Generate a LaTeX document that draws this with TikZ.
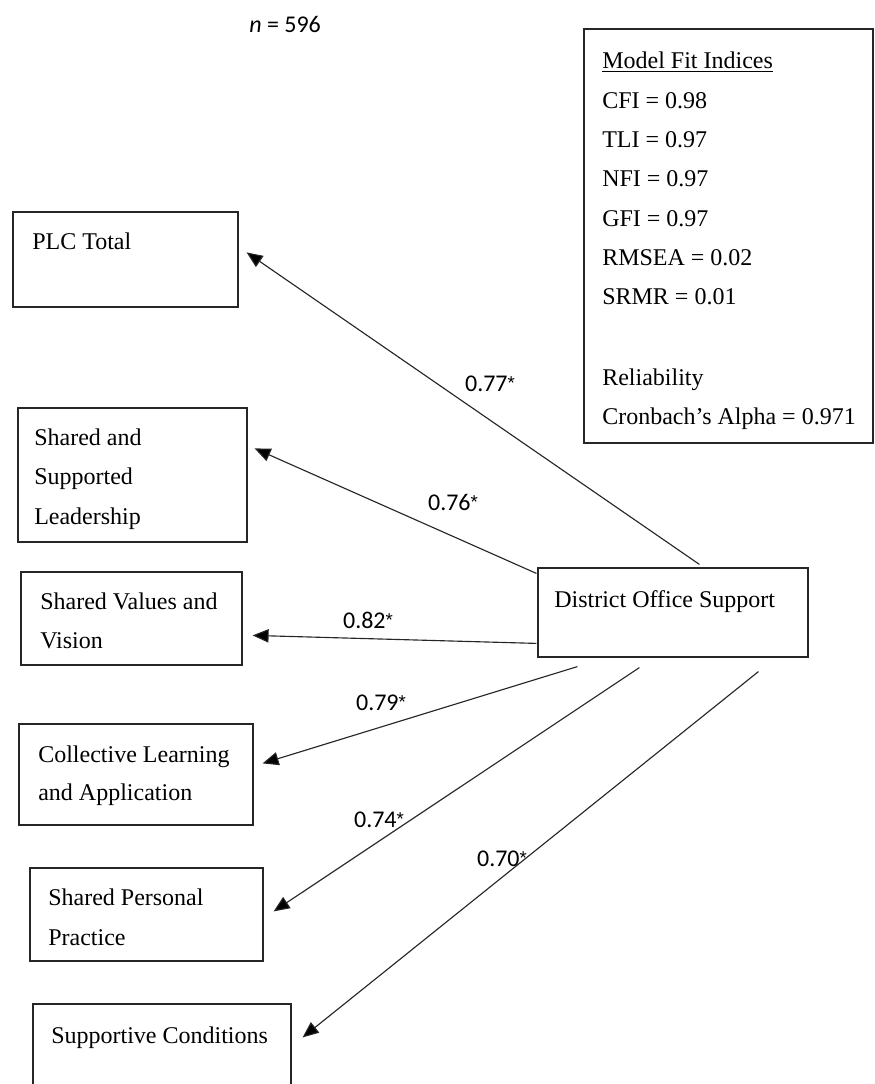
\documentclass[tikz,border=0pt]{standalone}
\usepackage{fontspec}
\setmainfont{Liberation Serif}
\newfontfamily\lblfont{Carlito}
\newfontfamily\starfont{Liberation Sans}
\usetikzlibrary{arrows.meta,calc,fit}
\newcommand{\sigstar}{\raisebox{0.05em}{\starfont\fontsize{14}{14}\selectfont *}}
\begin{document}
\begin{tikzpicture}[x=0.75pt,y=-0.75pt,
  boxnode/.style={draw=black!85, line width=0.9pt, inner sep=0pt, rectangle},
  txt/.style={anchor=base west, inner sep=0pt, font=\fontsize{18}{22}\selectfont},
  coef/.style={anchor=base, inner sep=0pt, font=\lblfont\fontsize{18}{22}\selectfont},
  linkarrow/.style={draw=black!85, line width=0.85pt, -{Triangle[length=12pt,width=10pt,fill=black]}}
]
\useasboundingbox (0,0) rectangle (874,1084);

% sample size
\node[coef, anchor=base west] (nsize) at (249,33) {\itshape n\upshape{} = 596};

% model fit box
\node[boxnode, fit={(584,29) (873,443)}] (mfi) {};
\node[txt] (mfi1) at (602,69) {\underline{Model Fit Indices}};
\node[txt] (mfi2) at (602,108.3) {CFI = 0.98};
\node[txt] (mfi3) at (602,147.6) {TLI = 0.97};
\node[txt] (mfi4) at (602,186.9) {NFI = 0.97};
\node[txt] (mfi5) at (602,226.2) {GFI = 0.97};
\node[txt] (mfi6) at (602,265.5) {RMSEA = 0.02};
\node[txt] (mfi7) at (602,304.8) {SRMR = 0.01};
\node[txt] (mfi8) at (602,385) {Reliability};
\node[txt] (mfi9) at (602,424) {Cronbach’s Alpha = 0.971};

% boxes
\node[boxnode, fit={(13,212) (238,307)}] (plc) {};
\node[txt] (plct) at (32,249) {PLC Total};

\node[boxnode, fit={(18,408) (247,542)}] (ssl) {};
\node[txt] (sslt1) at (34,445) {Shared and};
\node[txt] (sslt2) at (34,484) {Supported};
\node[txt] (sslt3) at (34,524) {Leadership};

\node[boxnode, fit={(21,572) (242,665)}] (svv) {};
\node[txt] (svvt1) at (40,609) {Shared Values and};
\node[txt] (svvt2) at (40,648) {Vision};

\node[boxnode, fit={(538,568) (808,657)}] (dos) {};
\node[txt] (dost) at (554,607) {District Office Support};

\node[boxnode, fit={(19,724) (253,825)}] (cla) {};
\node[txt] (clat1) at (38,762) {Collective Learning};
\node[txt] (clat2) at (38,800) {and Application};

\node[boxnode, fit={(30,868) (263,961)}] (spp) {};
\node[txt] (sppt1) at (48,905) {Shared Personal};
\node[txt] (sppt2) at (48,945) {Practice};

\node[boxnode, fit={(33,1004) (291,1100)}] (sc) {};
\node[txt] (sct) at (51,1043) {Supportive Conditions};

% connectors
\draw[linkarrow] ($(dos.north west)+(162,-3)$) -- ($(plc.north east)+(8,41)$);
\draw[linkarrow] ($(dos.north west)+(-1,6)$) -- ($(ssl.north east)+(7,41)$);
\draw[linkarrow] ($(dos.north west)+(-1,76)$) -- ($(svv.north east)+(10,64)$);
\draw[linkarrow] ($(dos.south west)+(40,9)$) -- ($(cla.north east)+(9,40)$);
\draw[linkarrow] ($(dos.south west)+(102,10)$) -- ($(spp.north east)+(10,44)$);
\draw[linkarrow] ($(dos.south west)+(221,14)$) -- ($(sc.north east)+(11,34)$);

% coefficients
\node[coef] (c77) at (490,391) {0.77\sigstar};
\node[coef] (c76) at (453,510) {0.76\sigstar};
\node[coef] (c82) at (368,628) {0.82\sigstar};
\node[coef] (c79) at (381,710) {0.79\sigstar};
\node[coef] (c74) at (379,827) {0.74\sigstar};
\node[coef] (c70) at (502,866) {0.70\sigstar};
\end{tikzpicture}
\end{document}
